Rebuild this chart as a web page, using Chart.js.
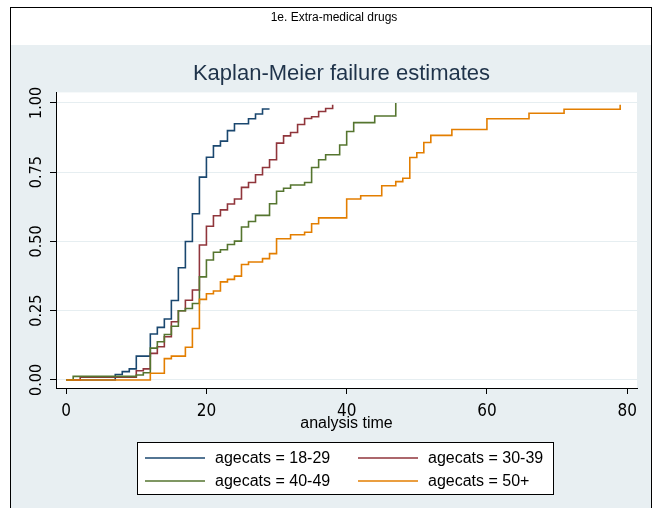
<!DOCTYPE html>
<html><head><meta charset="utf-8">
<script src="https://cdn.jsdelivr.net/npm/chart.js@4.4.1/dist/chart.umd.min.js"></script>
<style>html,body{margin:0;padding:0;background:#fff;overflow:hidden}canvas{display:block}</style>
</head><body>
<canvas id="c" width="657" height="508"></canvas>
<script>
// ---- text ----
const pageTitle = '1e. Extra-medical drugs';
const chartTitle = 'Kaplan-Meier failure estimates';
const xAxisTitle = 'analysis time';
const seriesLabels = ['agecats = 18-29', 'agecats = 30-39', 'agecats = 40-49', 'agecats = 50+'];
const xTicks = [0, 20, 40, 60, 80];
const yTicks = [0, 0.25, 0.5, 0.75, 1];
const yTickLabels = ['0.00', '0.25', '0.50', '0.75', '1.00'];

// ---- data: failure estimate steps (time, value from that time on) ----
const time1829 = [0, 7, 8, 9, 10, 12, 13, 14, 15, 16, 17, 18, 19, 20, 21, 22, 23, 24, 26, 27, 28, 29];
const fail1829 = [0, 0.02, 0.03, 0.04, 0.086, 0.166, 0.19, 0.22, 0.287, 0.405, 0.50, 0.60, 0.732, 0.804, 0.845, 0.862, 0.90, 0.925, 0.943, 0.96, 0.978, 0.978];

const time3039 = [0, 2, 10, 11, 12, 13, 14, 15, 16, 17, 18, 19, 20, 21, 22, 23, 24, 25, 26, 27, 28, 29, 30, 31, 32, 33, 34, 35, 36, 37, 38];
const fail3039 = [0, 0.01, 0.033, 0.04, 0.096, 0.12, 0.156, 0.21, 0.25, 0.288, 0.325, 0.487, 0.555, 0.593, 0.614, 0.635, 0.653, 0.695, 0.713, 0.741, 0.767, 0.795, 0.855, 0.881, 0.893, 0.922, 0.944, 0.95, 0.969, 0.98, 0.993];

const time4049 = [0, 1, 10, 11, 12, 13, 14, 15, 16, 17, 18, 19, 20, 21, 22, 23, 24, 25, 26, 27, 29, 30, 31, 32, 34, 35, 36, 37, 39, 40, 41, 44, 47];
const fail4049 = [0, 0.013, 0.018, 0.026, 0.115, 0.138, 0.164, 0.194, 0.25, 0.258, 0.276, 0.372, 0.433, 0.461, 0.47, 0.489, 0.501, 0.552, 0.572, 0.594, 0.636, 0.681, 0.692, 0.704, 0.713, 0.767, 0.795, 0.813, 0.848, 0.897, 0.929, 0.953, 1.0];

const time50p = [0, 12, 14, 15, 17, 18, 19, 20, 21, 22, 23, 24, 25, 26, 28, 29, 30, 32, 34, 35, 36, 40, 42, 45, 47, 48, 49, 50, 51, 52, 55, 60, 66, 71, 79];
const fail50p = [0, 0.024, 0.077, 0.086, 0.118, 0.186, 0.291, 0.311, 0.321, 0.354, 0.363, 0.375, 0.417, 0.426, 0.438, 0.456, 0.51, 0.524, 0.533, 0.564, 0.585, 0.653, 0.665, 0.701, 0.716, 0.728, 0.803, 0.82, 0.857, 0.883, 0.904, 0.943, 0.963, 0.977, 0.993];

const seriesColors = ['#1a476f', '#90353b', '#55752f', '#e37e00'];

const series = [[time1829, fail1829], [time3039, fail3039], [time4049, fail4049], [time50p, fail50p]];

const FONT = '"Liberation Sans", Arial, sans-serif';
const NARROW = '"Liberation Sans Narrow", "DejaVu Sans Condensed", "Liberation Sans", sans-serif';
const BG = '#e8eff2';

const datasets = series.map((s, i) => ({
  label: seriesLabels[i],
  data: s[0].map((t, j) => ({ x: t, y: s[1][j] })),
  borderColor: seriesColors[i],
  backgroundColor: seriesColors[i],
  borderWidth: 1.6,
  stepped: 'before',
  pointRadius: 0,
  fill: false,
  order: 3 - i
}));

const decor = {
  id: 'decor',
  beforeDraw(chart) {
    const ctx = chart.ctx, ca = chart.chartArea;
    ctx.save();
    ctx.fillStyle = '#ffffff';
    ctx.fillRect(0, 0, chart.width, chart.height);
    ctx.fillStyle = BG;
    ctx.fillRect(10, 45, 642, chart.height - 45);
    ctx.fillStyle = '#ffffff';
    ctx.fillRect(ca.left, ca.top, ca.right - ca.left, ca.bottom - ca.top);
    ctx.strokeStyle = '#000';
    ctx.lineWidth = 1;
    ctx.strokeRect(10.5, 7.5, 641, chart.height);
    ctx.fillStyle = '#000';
    ctx.font = '12px ' + FONT;
    ctx.textAlign = 'center';
    ctx.textBaseline = 'middle';
    ctx.fillText(pageTitle, 334, 18);
    ctx.restore();
  },
  afterDraw(chart) {
    const ctx = chart.ctx, ys = chart.scales.y;
    ctx.save();
    // rotated y tick labels
    ctx.fillStyle = '#000';
    ctx.font = '16px ' + NARROW;
    ctx.textAlign = 'center';
    ctx.textBaseline = 'middle';
    yTicks.forEach((v, i) => {
      const py = ys.getPixelForValue(v);
      ctx.save();
      ctx.translate(37, py);
      ctx.rotate(-Math.PI / 2);
      ctx.fillText(yTickLabels[i], 0, 0);
      ctx.restore();
    });
    // legend
    const bx = 137.5, by = 442.5, bw = 416, bh = 52;
    ctx.fillStyle = '#fff';
    ctx.fillRect(bx, by, bw, bh);
    ctx.strokeStyle = '#000';
    ctx.lineWidth = 1;
    ctx.strokeRect(bx, by, bw, bh);
    const cols = [[145, 205, 215], [358, 418, 428]];
    const rows = [458, 481];
    ctx.font = '16px ' + FONT;
    ctx.textAlign = 'left';
    chart.data.datasets.forEach((ds, i) => {
      const c = cols[i % 2], r = rows[Math.floor(i / 2)];
      ctx.strokeStyle = ds.borderColor;
      ctx.lineWidth = 1.6;
      ctx.beginPath();
      ctx.moveTo(c[0], r);
      ctx.lineTo(c[1], r);
      ctx.stroke();
      ctx.fillStyle = '#000';
      ctx.fillText(ds.label, c[2], r + 1);
    });
    ctx.restore();
  }
};

new Chart(document.getElementById('c'), {
  type: 'line',
  data: { datasets },
  options: {
    responsive: false,
    animation: false,
    devicePixelRatio: 1,
    layout: { padding: { left: 46, right: 20, top: 45, bottom: 70 } },
    plugins: {
      legend: { display: false },
      tooltip: { enabled: false },
      title: {
        display: true, text: chartTitle, color: '#1f334a',
        font: { family: FONT, size: 22, weight: 'normal' },
        padding: { top: 16, bottom: 5 }
      }
    },
    scales: {
      x: {
        type: 'linear', min: -1.45, max: 81.4,
        afterBuildTicks: s => { s.ticks = xTicks.map(v => ({ value: v })); },
        afterFit: s => { s.height = 50; },
        grid: { drawOnChartArea: false, drawTicks: true, tickLength: 6, tickColor: '#000', tickWidth: 1 },
        border: { display: true, color: '#000', width: 1 },
        ticks: { color: '#000', font: { family: NARROW, size: 17 }, padding: 7, autoSkip: false, maxRotation: 0, minRotation: 0 },
        title: { display: true, text: xAxisTitle, color: '#000', font: { family: FONT, size: 16 }, padding: { top: 0, bottom: 5 } }
      },
      y: {
        type: 'linear', min: -0.029, max: 1.038,
        afterBuildTicks: s => { s.ticks = yTicks.map(v => ({ value: v })); },
        afterFit: s => { s.width = 10; },
        grid: { color: '#e6eef1', lineWidth: 1, drawTicks: true, tickLength: 6, tickColor: '#000', tickWidth: 1 },
        border: { display: true, color: '#000', width: 1 },
        ticks: { display: false }
      }
    }
  },
  plugins: [decor]
});
</script>
</body></html>
